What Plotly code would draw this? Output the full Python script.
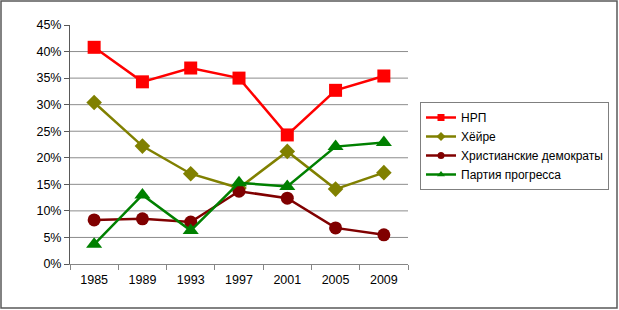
import plotly.graph_objects as go

years = ["1985", "1989", "1993", "1997", "2001", "2005", "2009"]
nrp = [40.8, 34.3, 36.9, 35.0, 24.3, 32.7, 35.4]
hoyre = [30.4, 22.2, 17.0, 14.3, 21.2, 14.1, 17.2]
krf = [8.3, 8.5, 7.9, 13.7, 12.4, 6.8, 5.5]
frp = [3.7, 13.0, 6.3, 15.3, 14.6, 22.1, 22.9]
y_ticks = [0, 5, 10, 15, 20, 25, 30, 35, 40, 45]
y_labels = [f"{v}%" for v in y_ticks]

series = [
    ("НРП", nrp, "#FF0000", "square", 13, 7),
    ("Хёйре", hoyre, "#808000", "diamond", 12, 7),
    ("Христианские демократы", krf, "#800000", "circle", 13, 7),
    ("Партия прогресса", frp, "#008000", "triangle-up", 14, 7),
]

fig = go.Figure()
for name, vals, color, sym, size, lsize in series:
    fig.add_trace(go.Scatter(
        x=years, y=vals, name=name, mode="lines+markers", showlegend=False,
        line=dict(color=color, width=2.5),
        marker=dict(symbol=sym, size=size, color=color),
    ))
for name, vals, color, sym, size, lsize in series:
    fig.add_trace(go.Scatter(
        x=[years[0]], y=[None], name=name, mode="lines+markers", showlegend=True,
        line=dict(color=color, width=2.5),
        marker=dict(symbol=sym, size=lsize, color=color),
    ))

L, R, T, B = 70, 211, 25, 46
W, H = 619, 310
pw, ph = W - L - R, H - T - B

shapes = [dict(
    type="line", xref="paper", yref="y", x0=0, x1=1, y0=v, y1=v,
    line=dict(color="#8c8c8c", width=1), layer="below",
) for v in y_ticks[1:-1]]
shapes.append(dict(
    type="rect", xref="paper", yref="paper",
    x0=(1 - L) / pw, x1=(W - 2 - L) / pw,
    y0=(H - B - (H - 2)) / ph, y1=(H - B - 1) / ph,
    line=dict(color="#595959", width=1.5), layer="below",
))

fig.update_layout(
    width=W, height=H,
    margin=dict(l=L, r=R, t=T, b=B, autoexpand=False),
    paper_bgcolor="white", plot_bgcolor="white",
    font=dict(family="Liberation Sans, Arial, sans-serif", size=12, color="#000000"),
    showlegend=True,
    legend=dict(
        x=(420 - L) / pw, y=(H - B - 102) / ph, xanchor="left", yanchor="top",
        bordercolor="#7f7f7f", borderwidth=1, bgcolor="white",
        font=dict(size=12), itemwidth=30, tracegroupgap=0,
    ),
    xaxis=dict(
        type="category", showgrid=False, showline=True, linecolor="#868686", linewidth=1,
        ticks="outside", ticklen=5, tickcolor="#868686", tickson="boundaries",
        tickfont=dict(size=12.5), range=[-0.5, 6.5], automargin=False,
        ticklabelstandoff=4,
    ),
    yaxis=dict(
        range=[0, 45], tickvals=y_ticks, ticktext=y_labels,
        showgrid=False,
        showline=True, linecolor="#595959", linewidth=1,
        ticks="outside", ticklen=5, tickcolor="#595959",
        tickfont=dict(size=12.5), zeroline=False, automargin=False,
    ),
    shapes=shapes,
)

fig.write_html(
    "out.html",
    config={"displayModeBar": False},
    post_script="document.body.style.margin='0';document.body.style.overflow='hidden';",
)
